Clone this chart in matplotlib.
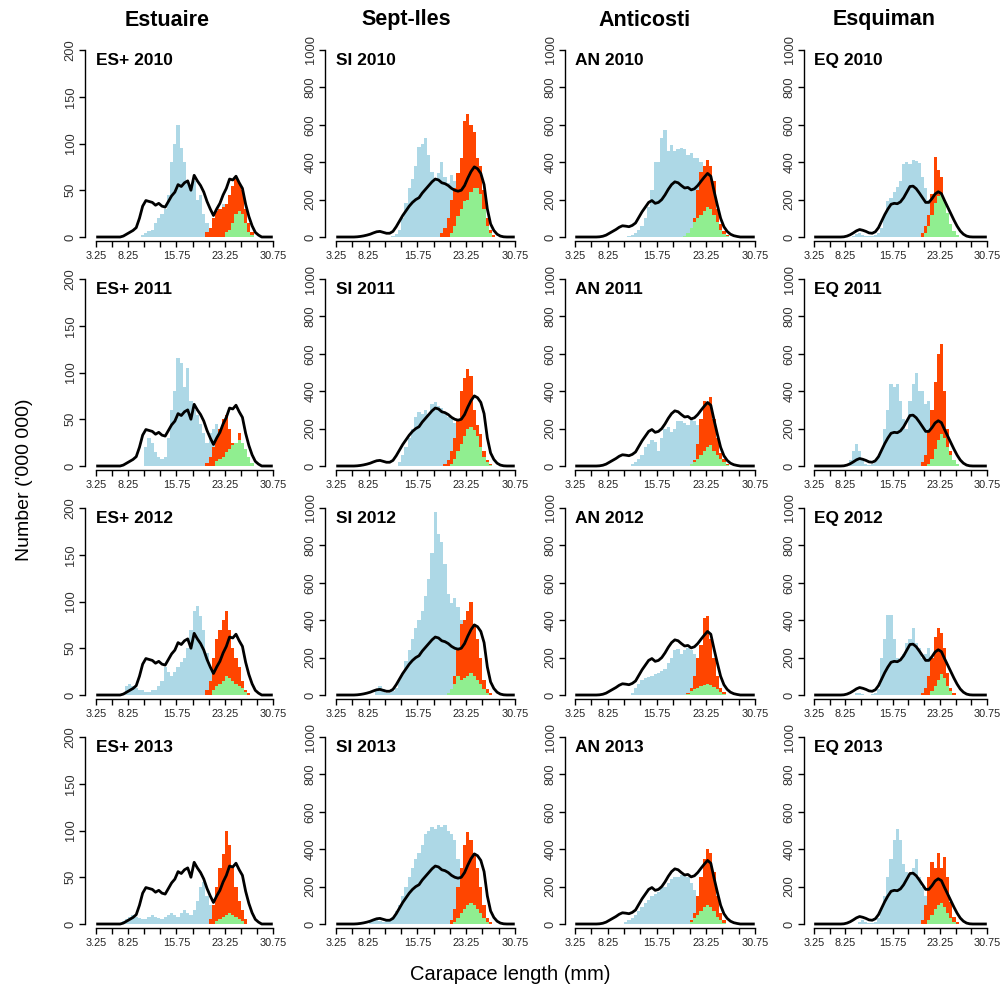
import numpy as np
import matplotlib
matplotlib.use("Agg")
import matplotlib.pyplot as plt

plt.rcParams["font.family"] = ["Liberation Sans", "DejaVu Sans"]

# size classes (0.5 mm bins, centres)
bins = np.arange(3.5, 30.51, 0.5)

regions = ["Estuaire", "Sept-Iles", "Anticosti", "Esquiman"]
codes = ["ES+", "SI", "AN", "EQ"]
years = [2010, 2011, 2012, 2013]
ymaxs = [200, 1000, 1000, 1000]
yticks_es = [0, 50, 100, 150, 200]
yticks_other = [0, 200, 400, 600, 800, 1000]
xticks = [3.25, 5.75, 8.25, 10.75, 13.25, 15.75, 18.25, 20.75, 23.25, 25.75, 28.25, 30.75]
xticklabels = ["3.25", "", "8.25", "", "", "15.75", "", "", "23.25", "", "", "30.75"]

# reference curves (one per region), (first bin centre, values)
curve_es = (7.5, [1, 3, 5, 7, 10, 20, 33, 39, 38, 37, 34, 36, 33, 32, 38, 44, 48, 56, 54, 58,
                  60, 50, 66, 60, 55, 48, 38, 30, 23, 30, 36, 45, 52, 62, 61, 65, 58, 52, 35, 22,
                  12, 5, 2])
curve_si = (6.5, [1, 3, 6, 10, 15, 22, 28, 30, 25, 20, 20, 30, 55, 85, 115, 140, 165, 185, 200,
                  210, 235, 255, 275, 295, 310, 305, 290, 285, 275, 260, 250, 245, 250, 275, 315,
                  350, 375, 365, 340, 280, 150, 70, 35, 15, 5, 1])
curve_an = (7.0, [1, 4, 10, 20, 30, 40, 52, 60, 58, 55, 62, 75, 105, 135, 160, 185, 195, 180, 185,
                  200, 225, 255, 280, 295, 290, 275, 262, 265, 252, 258, 275, 298, 320, 340, 325,
                  245, 170, 100, 55, 30, 15, 7, 3])
curve_eq = (8.0, [1, 5, 12, 22, 33, 40, 36, 30, 22, 20, 28, 50, 85, 120, 150, 175, 180, 178, 188,
                  210, 240, 270, 272, 258, 235, 210, 185, 185, 205, 230, 242, 232, 195, 160, 125,
                  90, 58, 32, 15, 5, 1])

# histograms: (first bin centre, values) for immature/male (blue), primiparous (red), multiparous (green)
es_2010_blue = (10.5, [2, 4, 6, 8, 15, 20, 25, 30, 45, 80, 100, 120, 95, 80, 60, 55, 60, 40, 45, 25,
                       15, 10, 20, 30, 30, 35, 30, 25, 20, 15, 10, 5])
es_2010_red = (20.5, [5, 10, 20, 28, 30, 32, 35, 45, 55, 62, 58, 50, 30, 15, 5])
es_2010_green = (23.5, [5, 8, 15, 25, 28, 25, 15, 5, 2])
es_2011_blue = (11.0, [20, 30, 25, 15, 10, 8, 10, 30, 60, 80, 115, 110, 85, 105, 70, 60, 55, 45, 35,
                       25, 35, 40, 45, 40, 30, 20, 15, 10, 5])
es_2011_red = (20.5, [3, 10, 20, 30, 40, 50, 55, 40, 25, 20, 35, 25, 15, 5])
es_2011_green = (22.0, [5, 8, 10, 15, 18, 22, 25, 28, 25, 18, 10, 3])
es_2012_blue = (8.0, [10, 12, 10, 8, 5, 5, 3, 3, 5, 5, 10, 15, 30, 25, 20, 25, 30, 35, 40, 50, 70,
                      90, 95, 85, 70, 45, 30, 40, 45, 35, 25, 20, 15, 10, 5])
es_2012_red = (20.5, [5, 15, 40, 60, 70, 80, 90, 70, 50, 40, 30, 15, 5, 2])
es_2012_green = (21.5, [5, 10, 12, 15, 20, 18, 15, 12, 10, 8, 3])
es_2013_blue = (7.5, [3, 5, 8, 10, 8, 6, 5, 5, 8, 10, 8, 6, 5, 8, 10, 12, 10, 8, 12, 15, 12, 10, 15,
                      25, 40, 45, 30, 20, 10, 5])
es_2013_red = (21.0, [5, 20, 40, 60, 75, 100, 85, 60, 40, 25, 15, 5])
es_2013_green = (22.0, [3, 5, 8, 10, 12, 10, 8, 5, 3])

si_2010_blue = (12.0, [5, 15, 40, 100, 180, 260, 310, 380, 480, 500, 530, 440, 350, 310, 340, 400,
                       320, 290, 330, 300, 250, 200, 150, 100, 60, 30, 10])
si_2010_red = (19.5, [20, 50, 100, 200, 260, 340, 420, 620, 660, 600, 560, 420, 380, 250, 100, 40, 10])
si_2010_green = (21.0, [20, 60, 110, 150, 190, 200, 240, 260, 260, 230, 150, 60, 20])
si_2011_blue = (13.0, [20, 60, 100, 150, 200, 260, 290, 280, 300, 280, 330, 340, 320, 310, 280, 260,
                       250, 230, 200, 170, 140, 100, 60, 30, 10])
si_2011_red = (20.0, [10, 30, 80, 150, 250, 400, 470, 520, 480, 300, 220, 170, 80, 30, 10])
si_2011_green = (21.0, [10, 40, 80, 120, 160, 200, 210, 190, 160, 100, 50, 20, 5])
si_2012_blue = (9.5, [20, 50, 30, 10, 10, 20, 40, 80, 120, 180, 240, 300, 360, 400, 450, 530, 620,
                      760, 980, 860, 820, 700, 540, 490, 520, 470, 400, 300, 200, 120, 60, 30, 10])
si_2012_red = (21.0, [20, 100, 250, 380, 400, 450, 500, 380, 300, 200, 80, 30, 10])
si_2012_green = (20.5, [10, 30, 60, 100, 80, 90, 100, 120, 100, 80, 60, 30, 10])
si_2013_blue = (8.5, [10, 20, 25, 15, 10, 15, 20, 40, 70, 100, 150, 200, 250, 300, 350, 380, 420,
                      480, 500, 520, 510, 530, 520, 530, 500, 480, 450, 350, 200, 100, 40, 15])
si_2013_red = (21.0, [20, 80, 200, 300, 420, 490, 450, 380, 300, 200, 100, 30, 10])
si_2013_green = (21.5, [10, 30, 60, 80, 100, 110, 100, 80, 60, 30, 10])

an_2010_blue = (11.5, [5, 10, 20, 35, 60, 100, 160, 250, 400, 400, 530, 570, 460, 490, 460, 470,
                       475, 470, 440, 450, 420, 420, 400, 300, 200, 120, 60, 30, 10])
an_2010_red = (20.5, [10, 30, 100, 250, 350, 380, 410, 380, 300, 150, 70, 30, 10])
an_2010_green = (20.0, [5, 20, 50, 80, 100, 120, 140, 160, 150, 120, 80, 40, 15, 5])
an_2011_blue = (12.0, [10, 20, 40, 60, 100, 120, 140, 130, 80, 150, 200, 210, 180, 200, 240, 240,
                       230, 220, 250, 240, 220, 180, 150, 100, 60, 30, 10])
an_2011_red = (21.0, [10, 30, 120, 250, 350, 330, 370, 250, 150, 70, 40, 10])
an_2011_green = (21.0, [10, 20, 40, 60, 80, 100, 110, 80, 60, 40, 20, 5])
an_2012_blue = (12.0, [10, 40, 60, 80, 90, 95, 100, 110, 120, 130, 140, 170, 200, 240, 245, 220,
                       240, 250, 240, 220, 180, 140, 100, 70, 40, 20])
an_2012_red = (20.5, [10, 40, 100, 200, 270, 410, 420, 300, 200, 100, 40, 15])
an_2012_green = (20.5, [5, 20, 30, 40, 50, 55, 60, 55, 45, 30, 15, 5])
an_2013_blue = (11.0, [10, 20, 30, 50, 70, 90, 110, 130, 150, 160, 170, 190, 200, 220, 240, 250,
                       250, 260, 260, 250, 220, 180, 130, 80, 40, 20])
an_2013_red = (21.0, [20, 60, 150, 250, 350, 400, 380, 280, 150, 60, 20])
an_2013_green = (21.0, [10, 30, 50, 70, 90, 100, 90, 70, 40, 20, 5])

eq_2010_blue = (9.5, [5, 15, 20, 10, 5, 5, 5, 10, 20, 50, 120, 190, 210, 240, 270, 300, 390, 400,
                      390, 410, 405, 395, 320, 260, 200, 150, 100, 60, 30, 15])
eq_2010_red = (20.5, [20, 60, 120, 230, 430, 360, 320, 200, 100, 50, 10])
eq_2010_green = (21.0, [20, 60, 120, 180, 220, 230, 190, 130, 70, 30, 10])
eq_2011_blue = (9.0, [30, 80, 120, 80, 30, 10, 5, 10, 20, 50, 80, 200, 300, 440, 420, 440, 350,
                      250, 200, 350, 440, 500, 400, 400, 330, 350, 300, 220, 150, 90, 50, 20])
eq_2011_red = (20.5, [20, 60, 180, 300, 450, 600, 650, 400, 200, 80, 30, 10])
eq_2011_green = (21.5, [10, 40, 90, 140, 170, 150, 100, 60, 30, 10])
eq_2012_blue = (10.0, [10, 10, 5, 0, 0, 5, 10, 30, 200, 300, 430, 430, 300, 200, 190, 220, 280,
                       300, 360, 280, 250, 200, 220, 250, 200, 150, 100, 60, 30])
eq_2012_red = (20.5, [10, 40, 100, 200, 310, 360, 330, 250, 120, 40, 10])
eq_2012_green = (22.0, [20, 50, 80, 110, 90, 50, 20])
eq_2013_blue = (10.5, [10, 20, 10, 5, 5, 10, 30, 80, 150, 250, 350, 450, 510, 450, 320, 280, 270,
                       300, 350, 250, 200, 150, 100, 60, 30])
eq_2013_red = (20.5, [20, 100, 250, 330, 300, 380, 300, 360, 250, 120, 40, 10])
eq_2013_green = (21.5, [20, 50, 80, 100, 110, 90, 60, 30, 10])

curves = [curve_es, curve_si, curve_an, curve_eq]
hists = [
    [(es_2010_blue, es_2010_red, es_2010_green), (es_2011_blue, es_2011_red, es_2011_green),
     (es_2012_blue, es_2012_red, es_2012_green), (es_2013_blue, es_2013_red, es_2013_green)],
    [(si_2010_blue, si_2010_red, si_2010_green), (si_2011_blue, si_2011_red, si_2011_green),
     (si_2012_blue, si_2012_red, si_2012_green), (si_2013_blue, si_2013_red, si_2013_green)],
    [(an_2010_blue, an_2010_red, an_2010_green), (an_2011_blue, an_2011_red, an_2011_green),
     (an_2012_blue, an_2012_red, an_2012_green), (an_2013_blue, an_2013_red, an_2013_green)],
    [(eq_2010_blue, eq_2010_red, eq_2010_green), (eq_2011_blue, eq_2011_red, eq_2011_green),
     (eq_2012_blue, eq_2012_red, eq_2012_green), (eq_2013_blue, eq_2013_red, eq_2013_green)],
]
colors = ["#ADD8E6", "#FF4500", "#90EE90"]


def expand(series):
    start, vals = series
    arr = np.zeros(len(bins))
    i0 = int(round((start - bins[0]) / 0.5))
    arr[i0:i0 + len(vals)] = vals
    return arr


W, H = 1003, 993
fig = plt.figure(figsize=(W / 100, H / 100), dpi=100)

# pixel layout per column: y-spine, position of 3.25 and of 30.75
col_px = [(85, 96, 273), (325, 336, 515), (565, 575, 755), (804, 814, 987)]

for c in range(4):
    ymax = ymaxs[c]
    curve = expand(curves[c])
    spine, p0, p1 = col_px[c]
    scale = (p1 - p0) / 27.5
    x_lo = 3.25 - (p0 - spine) / scale
    x_hi = 30.75 + 6 / scale
    ax_w = p1 + 6 - spine
    fig.text((167 + 239 * c) / W, 1 - 20 / H, regions[c], ha="center", va="center",
             fontsize=15.5, fontweight="bold")
    for r in range(4):
        top = 50 + 229 * r
        bottom = 241 + 229 * r
        ax = fig.add_axes([spine / W, 1 - bottom / H, ax_w / W, (bottom - top) / H])
        for series, col in zip(hists[c][r], colors):
            ax.bar(bins, expand(series), width=0.5, color=col, linewidth=0, zorder=2)
        ax.plot(bins, curve, color="black", lw=2.0, zorder=3)
        ax.set_xlim(x_lo, x_hi)
        ax.set_ylim(-ymax * 4 / 187, ymax)
        for s in ["top", "right"]:
            ax.spines[s].set_visible(False)
        ax.spines["left"].set_bounds(0, ymax)
        ax.spines["bottom"].set_bounds(3.25, 30.75)
        ax.spines["left"].set_linewidth(1.0)
        ax.spines["bottom"].set_linewidth(1.0)
        ax.set_xticks(xticks)
        ax.set_xticklabels(xticklabels, fontsize=7.8, color="#222222")
        yt = yticks_es if c == 0 else yticks_other
        ax.set_yticks(yt)
        ax.set_yticklabels([str(v) for v in yt], fontsize=9.3, rotation=90, va="center",
                           color="#333333")
        ax.tick_params(axis="both", length=4, width=1.0, pad=2)
        ax.tick_params(axis="x", pad=3)
        ax.text(3.25, 0.945, f"{codes[c]} {years[r]}", transform=ax.get_xaxis_transform(),
                ha="left", va="center", fontsize=12.5, fontweight="bold")

fig.text(25 / W, 1 - 480 / H, "Number ('000 000)", rotation=90, ha="center", va="center",
         fontsize=14)
fig.text(510 / W, 1 - 975 / H, "Carapace length (mm)", ha="center", va="center", fontsize=14.5)

fig.savefig("out.png", dpi=100)
